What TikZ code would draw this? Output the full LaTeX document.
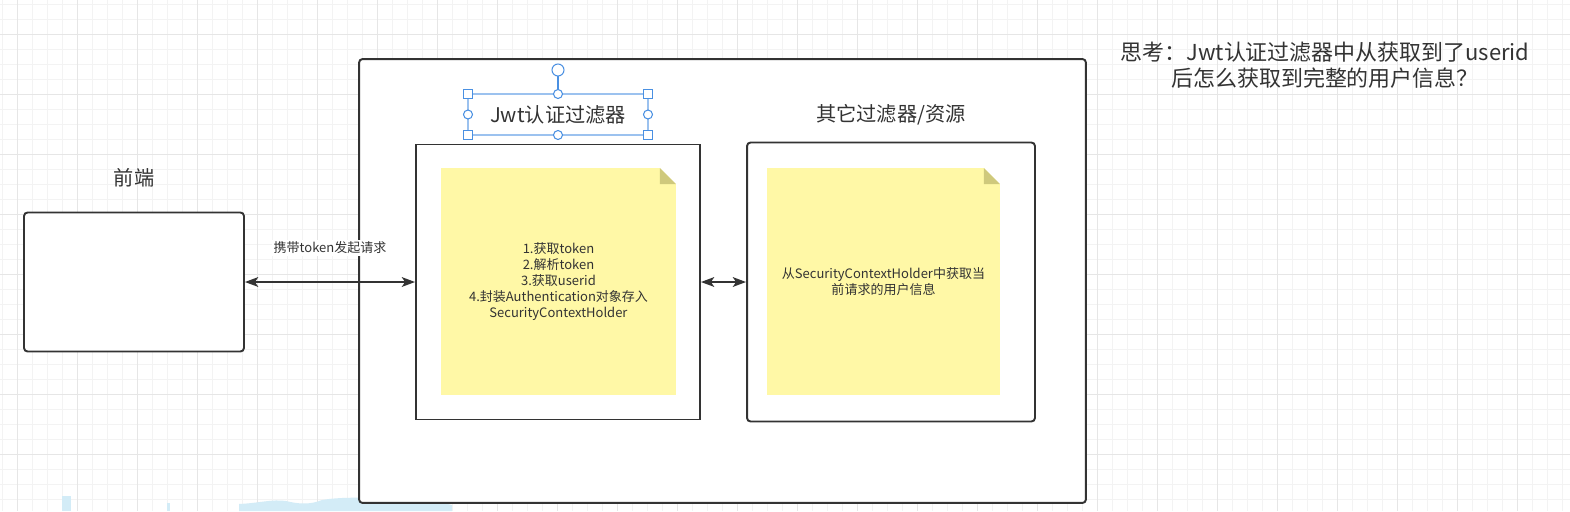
\documentclass[tikz,border=0pt]{standalone}
\usepackage{fontspec}
\setmainfont{Noto Sans CJK SC}
\usetikzlibrary{arrows.meta}

\definecolor{ink}{HTML}{333333}
\definecolor{notefill}{HTML}{FFF8A6}
\definecolor{foldfill}{HTML}{CFC97C}
\definecolor{gridminor}{HTML}{F3F3F3}
\definecolor{gridmajor}{HTML}{E6E6E6}
\definecolor{selblue}{HTML}{4A90E2}
\definecolor{blob}{HTML}{D3ECF7}

\tikzset{
  box/.style={draw=ink, line width=1.1pt, fill=white, inner sep=0pt},
  note/.style={fill=notefill, inner sep=0pt, text=ink, align=center,
    font=\fontsize{7.4}{9.1}\selectfont,
    path picture={
      \fill[white] ([xshift=-0.32cm]path picture bounding box.north east) -- (path picture bounding box.north east)
        -- ([yshift=-0.32cm]path picture bounding box.north east) -- cycle;
      \fill[foldfill] ([xshift=-0.32cm]path picture bounding box.north east)
        -- ([xshift=-0.32cm,yshift=-0.32cm]path picture bounding box.north east)
        -- ([yshift=-0.32cm]path picture bounding box.north east) -- cycle;}},
  head/.style={text=ink, font=\fontsize{11.5}{13}\selectfont},
  link/.style={draw=ink, line width=1.2pt, >={Stealth[length=7.5pt,width=5.5pt,inset=1.8pt]}, <->},
  handle/.style={draw=selblue, fill=white, line width=0.6pt}
}

\begin{document}
\begin{tikzpicture}[x=0.02cm, y=-0.02cm]
  \useasboundingbox (0,0) rectangle (1570,511);
  \fill[white] (0,0) rectangle (1570,511);

  \foreach \x in {2.5,17.5,...,1570} \draw[gridminor, line width=0.5pt] (\x,0) -- (\x,511);
  \foreach \y in {4.3,19.3,...,511} \draw[gridminor, line width=0.5pt] (0,\y) -- (1570,\y);
  \foreach \x in {17.5,77.5,...,1570} \draw[gridmajor, line width=0.5pt] (\x,0) -- (\x,511);
  \foreach \y in {34.3,94.3,...,511} \draw[gridmajor, line width=0.5pt] (0,\y) -- (1570,\y);

  \fill[blob] (62,496) rectangle (71,511);
  \fill[blob] (167,503) rectangle (170,511);
  \fill[blob] (239,511) -- (239,504) .. controls (260,503) and (272,499) .. (286,501)
    .. controls (298,504) and (310,505) .. (322,500) .. controls (345,496) and (380,498) .. (410,500)
    .. controls (430,502) and (445,503) .. (452,505) -- (452,511) -- cycle;

  \node[box, rounded corners=2pt, minimum width=14.54cm, minimum height=8.88cm] (cont) at (722.5,281) {};
  \node[box, rounded corners=2pt, minimum width=4.4cm, minimum height=2.78cm] (front) at (134,282) {};
  \node[box, minimum width=5.68cm, minimum height=5.5cm] (jwt) at (558,282) {};
  \node[box, rounded corners=2pt, minimum width=5.76cm, minimum height=5.58cm] (other) at (891,282) {};

  \node[note, minimum width=4.7cm, minimum height=4.54cm] (parse) at (558.5,281.5)
    {1.获取token\\2.解析token\\3.获取userid\\4.封装Authentication对象存入\\SecurityContextHolder};
  \node[note, minimum width=4.66cm, minimum height=4.54cm] (fetch) at (883.5,281.5)
    {从SecurityContextHolder中获取当\\前请求的用户信息};

  \node[head] (frontlabel) at (134,178) {前端};
  \node[head] (jwtlabel) at (558,115) {Jwt认证过滤器};
  \node[head] (otherlabel) at (891,115) {其它过滤器/资源};
  \node[text=ink, align=center, font=\fontsize{12.5}{14.7}\selectfont] (question) at (1325,65)
    {思考：Jwt认证过滤器中从获取到了userid\\后怎么获取到完整的用户信息？};

  \draw[link] (front.east) -- (jwt.west);
  \draw[link] (jwt.east) -- (other.west);
  \node[fill=white, inner sep=1pt, text=ink, font=\fontsize{7.4}{9}\selectfont] (reqlabel) at (330,248) {携带token发起请求};

  \draw[selblue!55, line width=0.6pt] (468,94) rectangle (648,135);
  \draw[selblue, line width=0.6pt] (558,94) -- (558,76);
  \draw[handle] (558,70) circle[radius=0.12cm];
  \foreach \x/\y in {468/94,648/94,468/135,648/135}
    \draw[handle] (\x-4.5,\y-4.5) rectangle (\x+4.5,\y+4.5);
  \foreach \x/\y in {558/94,558/135,468/114.5,648/114.5}
    \draw[handle] (\x,\y) circle[radius=0.09cm];
\end{tikzpicture}
\end{document}
